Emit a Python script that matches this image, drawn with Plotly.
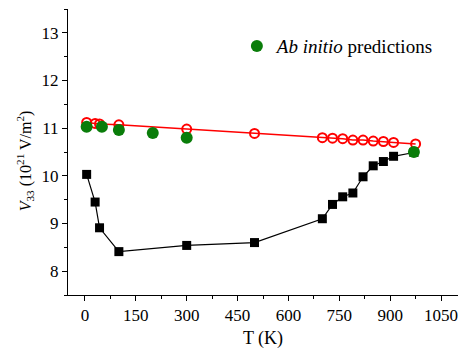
import plotly.graph_objects as go

# Experimental V33 (black squares)
T_exp = [5, 30, 43, 100, 300, 500, 700, 730, 760, 790, 820, 850, 880, 910, 970]
V_exp = [10.03, 9.45, 8.91, 8.41, 8.54, 8.60, 9.10, 9.40, 9.56, 9.64, 9.98, 10.21, 10.30, 10.41, 10.49]

# Model V33 (red open circles)
T_fit = [5, 30, 43, 100, 300, 500, 700, 730, 760, 790, 820, 850, 880, 910, 975]
V_fit = [11.12, 11.10, 11.09, 11.07, 10.98, 10.89, 10.80, 10.79, 10.78, 10.75, 10.75, 10.73, 10.72, 10.70, 10.67]

# Ab initio predictions (green circles)
T_ab = [5, 50, 100, 200, 300, 970]
V_ab = [11.03, 11.03, 10.96, 10.90, 10.80, 10.50]

x_ticks = [0, 150, 300, 450, 600, 750, 900, 1050]
y_ticks = [8, 9, 10, 11, 12, 13]

FONT = '"Liberation Serif", "Times New Roman", "DejaVu Serif", serif'

fig = go.Figure()
fig.add_trace(go.Scatter(
    x=T_exp, y=V_exp, mode="lines+markers", showlegend=False,
    line=dict(color="black", width=1.2),
    marker=dict(symbol="square", size=9, color="black"),
))
fig.add_trace(go.Scatter(
    x=T_fit, y=V_fit, mode="lines+markers", showlegend=False,
    line=dict(color="red", width=1.5),
    marker=dict(symbol="circle-open", size=9, color="red", line=dict(width=2, color="red")),
))
fig.add_trace(go.Scatter(
    x=T_ab, y=V_ab, mode="markers", name="<i>Ab initio</i> predictions",
    marker=dict(symbol="circle", size=12, color="#0a7d0a"),
))

axis_common = dict(
    showline=True, linecolor="black", linewidth=1, mirror=False,
    ticks="outside", ticklen=5, tickwidth=1, tickcolor="black",
    showgrid=False, zeroline=False, automargin=False,
    tickfont=dict(family=FONT, size=17, color="black"),
)

fig.update_layout(
    width=459, height=354,
    margin=dict(l=68, r=1, t=9, b=59),
    paper_bgcolor="white", plot_bgcolor="white",
    font=dict(family=FONT, size=16, color="black"),
    xaxis=dict(
        range=[-50, 1100], tickvals=x_ticks,
        minor=dict(ticks="outside", ticklen=3, dtick=75, tick0=0, tickcolor="black"),
        title=dict(text="T (K)", font=dict(family=FONT, size=18), standoff=6),
        **axis_common,
    ),
    yaxis=dict(
        range=[7.5, 13.5], tickvals=y_ticks,
        minor=dict(ticks="outside", ticklen=3, dtick=0.5, tick0=0, tickcolor="black"),
        **axis_common,
    ),
    legend=dict(
        x=0.433, y=0.87, xanchor="left", yanchor="middle",
        bgcolor="rgba(0,0,0,0)", font=dict(family=FONT, size=19),
        itemwidth=30,
    ),
    annotations=[dict(
        text="<i>V</i><sub>33</sub> (10<sup>21</sup> V/m<sup>2</sup>)",
        xref="paper", yref="paper", x=-0.11, y=0.468,
        textangle=-90, showarrow=False, xanchor="center", yanchor="middle",
        font=dict(family=FONT, size=16, color="black"),
    )],
)

# Remove the default page margin so the figure sits at the window's top-left corner.
fig.write_html("out.html",
               config={"displayModeBar": False},
               post_script="document.body.style.margin='0';document.body.style.overflow='hidden';")
